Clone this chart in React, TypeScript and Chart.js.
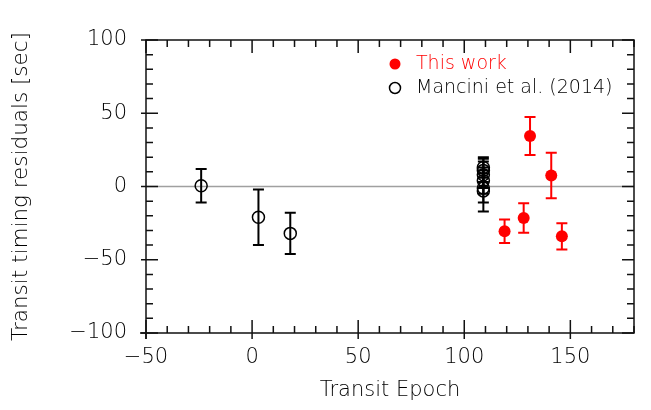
import React, { useEffect, useRef } from 'react';
import { Chart, registerables } from 'chart.js';

Chart.register(...registerables);

// ---- data ----
const mancEpoch = [-24, 3, 18, 109, 109, 109, 109, 109, 109];
const mancResid = [0.5, -21, -32, 13, 11, 8, 4, -1, -3];
const mancErr = [11.5, 19, 14, 7, 8, 9, 9, 10, 14];

const thisEpoch = [119, 128, 131, 141, 146];
const thisResid = [-30.5, -21.5, 34.5, 7.5, -34];
const thisErr = [8, 10, 13, 15.5, 9];

const xMin = -50;
const xMax = 180;
const yMin = -100;
const yMax = 100;
const majorStep = 50;
const minorStep = 10;

const legendLabels = ['This work', 'Mancini et al. (2014)'];
const xTitle = 'Transit Epoch';
const yTitle = 'Transit timing residuals [sec]';

const RED = '#ff0000';
const BLACK = '#000000';
const FONT = 'DejaVu Sans';
const WEIGHT = '200';

const errSets = [
  { x: thisEpoch, y: thisResid, e: thisErr, color: RED, width: 2 },
  { x: mancEpoch, y: mancResid, e: mancErr, color: BLACK, width: 2 },
];

const decoPlugin = {
  id: 'deco',
  beforeDatasetsDraw(chart: any) {
    const { ctx, chartArea, scales } = chart;
    const xs = scales.x;
    const ys = scales.y;
    ctx.save();
    // zero line
    const y0 = ys.getPixelForValue(0);
    ctx.strokeStyle = '#a0a0a0';
    ctx.lineWidth = 1.6;
    ctx.beginPath();
    ctx.moveTo(chartArea.left, y0);
    ctx.lineTo(chartArea.right, y0);
    ctx.stroke();
    // error bars
    const cap = 5.5;
    for (const s of errSets) {
      ctx.strokeStyle = s.color;
      ctx.lineWidth = s.width;
      for (let i = 0; i < s.x.length; i++) {
        const px = xs.getPixelForValue(s.x[i]);
        const pt = ys.getPixelForValue(s.y[i] + s.e[i]);
        const pb = ys.getPixelForValue(s.y[i] - s.e[i]);
        ctx.beginPath();
        ctx.moveTo(px, pt);
        ctx.lineTo(px, pb);
        ctx.moveTo(px - cap, pt);
        ctx.lineTo(px + cap, pt);
        ctx.moveTo(px - cap, pb);
        ctx.lineTo(px + cap, pb);
        ctx.stroke();
      }
    }
    ctx.restore();
  },
  afterDraw(chart: any) {
    const { ctx, chartArea, scales } = chart;
    const { left, right, top, bottom } = chartArea;
    const xs = scales.x;
    const ys = scales.y;
    ctx.save();
    ctx.strokeStyle = '#111111';
    ctx.lineWidth = 1.5;
    // frame
    ctx.beginPath();
    ctx.moveTo(left - 6, bottom);
    ctx.lineTo(right, bottom);
    ctx.lineTo(right, top);
    ctx.lineTo(left, top);
    ctx.lineTo(left, bottom + 6);
    ctx.stroke();
    // ticks
    const majIn = 13;
    const minIn = 7;
    const out = 6;
    ctx.beginPath();
    for (let v = xMin; v <= xMax + 1e-9; v += minorStep) {
      const px = xs.getPixelForValue(v);
      const major = Math.abs(v % majorStep) < 1e-9;
      const len = major ? majIn : minIn;
      ctx.moveTo(px, bottom + (major ? out : 0));
      ctx.lineTo(px, bottom - len);
      ctx.moveTo(px, top);
      ctx.lineTo(px, top + len);
    }
    for (let v = yMin; v <= yMax + 1e-9; v += minorStep) {
      const py = ys.getPixelForValue(v);
      const major = Math.abs(v % majorStep) < 1e-9;
      const len = major ? majIn - 1 : minIn;
      ctx.moveTo(left - (major ? out - 1 : 0), py);
      ctx.lineTo(left + len, py);
      ctx.moveTo(right, py);
      ctx.lineTo(right - len, py);
    }
    ctx.stroke();
    // legend
    const lx = left + 249;
    const ly1 = top + 24;
    const ly2 = top + 48;
    ctx.font = `${WEIGHT} 19px "${FONT}"`;
    ctx.textBaseline = 'middle';
    ctx.textAlign = 'left';
    ctx.fillStyle = RED;
    ctx.beginPath();
    ctx.arc(lx, ly1, 5.5, 0, Math.PI * 2);
    ctx.fill();
    ctx.fillText(legendLabels[0], lx + 21, ly1);
    ctx.strokeStyle = BLACK;
    ctx.lineWidth = 1.5;
    ctx.beginPath();
    ctx.arc(lx, ly2, 5.5, 0, Math.PI * 2);
    ctx.stroke();
    ctx.fillStyle = BLACK;
    ctx.fillText(legendLabels[1], lx + 21, ly2);
    ctx.restore();
  },
};

const fmt = (v: any) => String(v).replace('-', '\u2212');

export default function App() {
  const ref = useRef<HTMLCanvasElement | null>(null);
  useEffect(() => {
    if (!ref.current) return;
    Chart.defaults.font.family = FONT;
    Chart.defaults.color = '#000';
    const f = { size: 21, weight: WEIGHT };
    const chart = new Chart(ref.current, {
      type: 'scatter',
      data: {
        datasets: [
          {
            label: legendLabels[1],
            data: mancEpoch.map((x, i) => ({ x, y: mancResid[i] })),
            pointRadius: 6,
            pointBackgroundColor: 'rgba(0,0,0,0)',
            pointBorderColor: BLACK,
            pointBorderWidth: 1.5,
            showLine: false,
          },
          {
            label: legendLabels[0],
            data: thisEpoch.map((x, i) => ({ x, y: thisResid[i] })),
            pointRadius: 6,
            pointBackgroundColor: RED,
            pointBorderColor: RED,
            pointBorderWidth: 0,
            showLine: false,
          },
        ],
      },
      options: {
        responsive: false,
        animation: false,
        devicePixelRatio: 1,
        layout: { padding: { left: 0, right: 17, top: 40, bottom: 7 } },
        plugins: { legend: { display: false }, tooltip: { enabled: false } },
        scales: {
          x: {
            type: 'linear',
            min: xMin,
            max: xMax,
            grid: { display: false, drawTicks: false },
            border: { display: false },
            ticks: {
              stepSize: majorStep,
              includeBounds: false,
              padding: 12,
              font: f,
              color: '#000',
              callback: fmt,
              maxRotation: 0,
            },
            title: {
              display: true,
              text: xTitle,
              font: f,
              color: '#000',
              padding: { top: 0, bottom: 0 },
            },
            afterFit: (s: any) => {
              s.height = 70;
            },
          },
          y: {
            type: 'linear',
            min: yMin,
            max: yMax,
            grid: { display: false, drawTicks: false },
            border: { display: false },
            ticks: {
              stepSize: majorStep,
              padding: 19,
              font: f,
              color: '#000',
              callback: fmt,
            },
            title: {
              display: true,
              text: yTitle,
              font: { size: 21.5, weight: WEIGHT },
              color: '#000',
              padding: { top: 9, bottom: 0 },
            },
            afterFit: (s: any) => {
              s.width = 146;
            },
          },
        },
      },
      plugins: [decoPlugin],
    } as any);
    return () => chart.destroy();
  }, []);
  return (
    <div style={{ position: 'fixed', left: 0, top: 0, width: 651, height: 410, background: '#fff' }}>
      <canvas ref={ref} width={651} height={410} style={{ width: 651, height: 410, display: 'block' }} />
    </div>
  );
}
